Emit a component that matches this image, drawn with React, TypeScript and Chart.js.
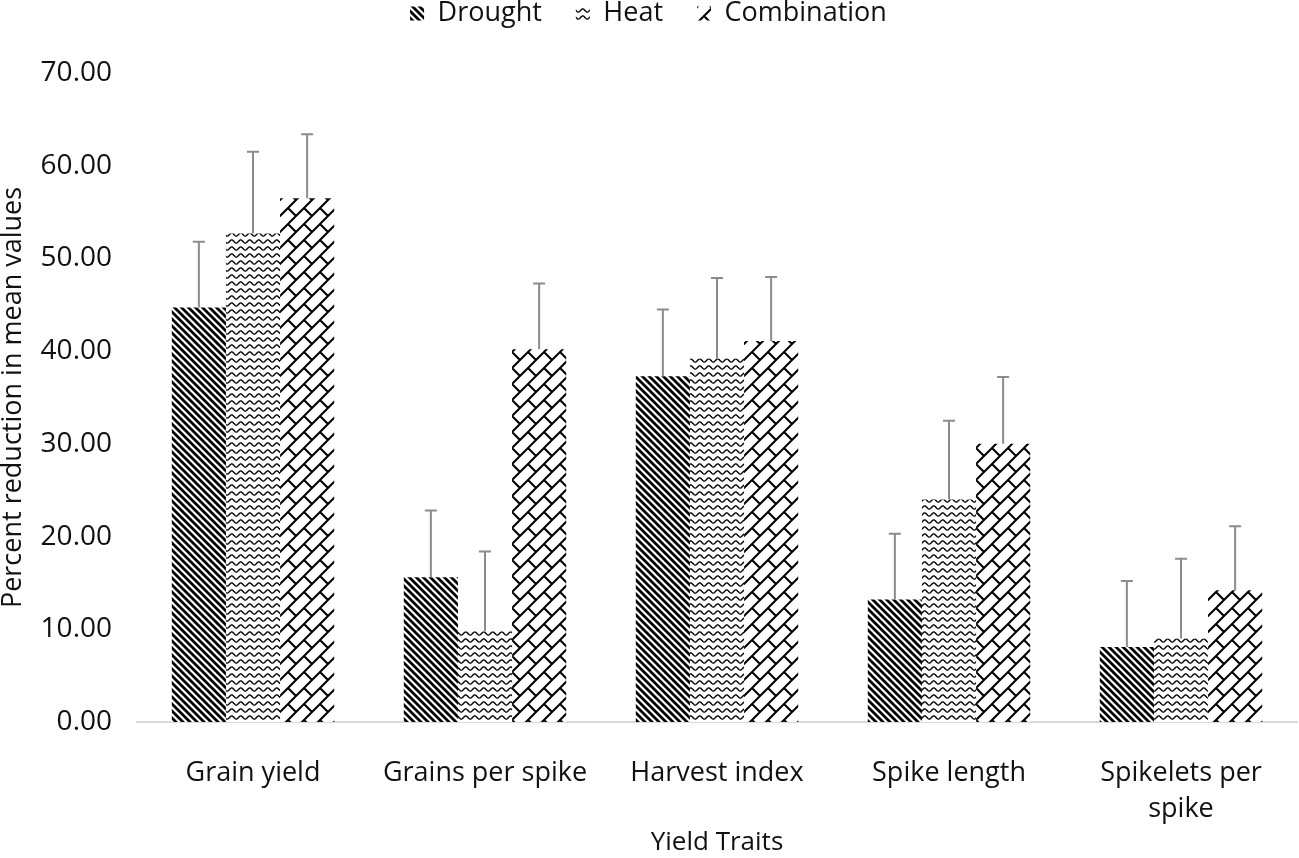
import { useEffect, useRef } from "react";
import { Chart, registerables } from "chart.js";

Chart.register(...registerables);

const traits = [["Grain yield"], ["Grains per spike"], ["Harvest index"], ["Spike length"], ["Spikelets per", "spike"]];
const drought = [44.7, 15.6, 37.3, 13.2, 8.1];
const heat = [52.7, 9.8, 39.2, 24.0, 9.0];
const combination = [56.5, 40.2, 41.1, 30.0, 14.2];
// upper error bar lengths
const droughtErr = [7.1, 7.2, 7.2, 7.1, 7.1];
const heatErr = [8.8, 8.6, 8.7, 8.5, 8.6];
const combinationErr = [6.9, 7.1, 6.9, 7.2, 6.9];

const FONT = "'Open Sans', sans-serif";

function makePattern(w: number, h: number, draw: (g: CanvasRenderingContext2D) => void) {
  const c = document.createElement("canvas");
  c.width = w;
  c.height = h;
  const g = c.getContext("2d")!;
  g.fillStyle = "#fff";
  g.fillRect(0, 0, w, h);
  g.strokeStyle = "#000";
  draw(g);
  return g.createPattern(c, "repeat")!;
}

// wide downward diagonal
const stripes = () =>
  makePattern(7, 7, (g) => {
    g.lineWidth = 2.8;
    g.beginPath();
    for (let k = -1; k <= 1; k++) {
      g.moveTo(k * 7 - 2, -2);
      g.lineTo(k * 7 + 9, 9);
    }
    g.stroke();
  });

// wave
const waves = () =>
  makePattern(9, 7, (g) => {
    g.lineWidth = 1.4;
    g.beginPath();
    for (let x = -1; x <= 10; x += 0.5) {
      const y = 3.5 + 1.6 * Math.sin((2 * Math.PI * x) / 9);
      if (x === -1) g.moveTo(x, y);
      else g.lineTo(x, y);
    }
    g.stroke();
  });

// diagonal brick
const bricks = () => {
  const d = 16, P = 32, T = 32;
  return makePattern(T, T, (g) => {
    g.lineWidth = 2;
    g.beginPath();
    for (let k = -2; k <= 6; k++) {
      const u = k * d;
      g.moveTo(-T, u + T);
      g.lineTo(2 * T, u - 2 * T);
      const off = (((k % 2) + 2) % 2) * (P / 2);
      for (let m = -3; m <= 3; m++) {
        const v = m * P + off;
        g.moveTo((u + v) / 2, (u - v) / 2);
        g.lineTo((u + d + v) / 2, (u + d - v) / 2);
      }
    }
    g.stroke();
  });
};

const errorBars = {
  id: "errorBars",
  afterDatasetsDraw(chart: any) {
    const { ctx } = chart;
    const y = chart.scales.y;
    ctx.save();
    ctx.strokeStyle = "#8c8c8c";
    ctx.lineWidth = 2;
    chart.data.datasets.forEach((ds: any, i: number) => {
      chart.getDatasetMeta(i).data.forEach((bar: any, j: number) => {
        const top = y.getPixelForValue(ds.data[j] + ds.errors[j]);
        ctx.beginPath();
        ctx.moveTo(bar.x, bar.y);
        ctx.lineTo(bar.x, top);
        ctx.moveTo(bar.x - 6, top);
        ctx.lineTo(bar.x + 6, top);
        ctx.stroke();
      });
    });
    ctx.restore();
  },
};

const legendSpace = {
  id: "legendSpace",
  beforeInit(chart: any) {
    const fit = chart.legend.fit;
    chart.legend.fit = function () {
      fit.bind(chart.legend)();
      this.height = 107;
    };
  },
};

export default function App() {
  const ref = useRef<HTMLCanvasElement>(null);

  useEffect(() => {
    document.body.style.margin = "0";
    if (!ref.current) return;
    const chart = new Chart(ref.current, {
      type: "bar",
      data: {
        labels: traits,
        datasets: [
          { label: "Drought", data: drought, errors: droughtErr, backgroundColor: stripes(), borderWidth: 0 } as any,
          { label: "Heat", data: heat, errors: heatErr, backgroundColor: waves(), borderWidth: 0 } as any,
          { label: "Combination", data: combination, errors: combinationErr, backgroundColor: bricks(), borderWidth: 0 } as any,
        ],
      },
      options: {
        responsive: false,
        animation: false,
        layout: { padding: { top: -34, right: 2, left: 0, bottom: 0 } },
        datasets: { bar: { categoryPercentage: 0.7, barPercentage: 1.0 } },
        plugins: {
          legend: {
            position: "top",
            labels: { font: { family: FONT, size: 27 }, color: "#111", boxWidth: 14, boxHeight: 14, padding: 34 },
          },
          tooltip: { enabled: false },
        },
        scales: {
          x: {
            grid: { display: false },
            border: { color: "#d9d9d9", width: 2 },
            ticks: { font: { family: FONT, size: 27, lineHeight: 1.35 }, color: "#111", padding: 25, maxRotation: 0 },
            title: { display: true, text: "Yield Traits", font: { family: FONT, size: 26, lineHeight: 1.15 }, color: "#111", padding: 0 },
            afterFit: (s: any) => { s.height = 136; },
          },
          y: {
            min: 0,
            max: 70,
            grid: { display: false, drawTicks: false },
            border: { display: false },
            ticks: {
              stepSize: 10,
              font: { family: FONT, size: 28 },
              color: "#111",
              padding: 25,
              callback: (v: any) => Number(v).toFixed(2),
            },
            title: { display: true, text: "Percent reduction in mean values", font: { family: FONT, size: 27, lineHeight: 1 }, color: "#111", padding: 0 },
            afterFit: (s: any) => { s.width = 137; },
          },
        },
      },
      plugins: [errorBars, legendSpace],
    });
    return () => chart.destroy();
  }, []);

  return (
    <div style={{ width: 1299, height: 858 }}>
      <canvas ref={ref} width={1299} height={858}></canvas>
    </div>
  );
}
